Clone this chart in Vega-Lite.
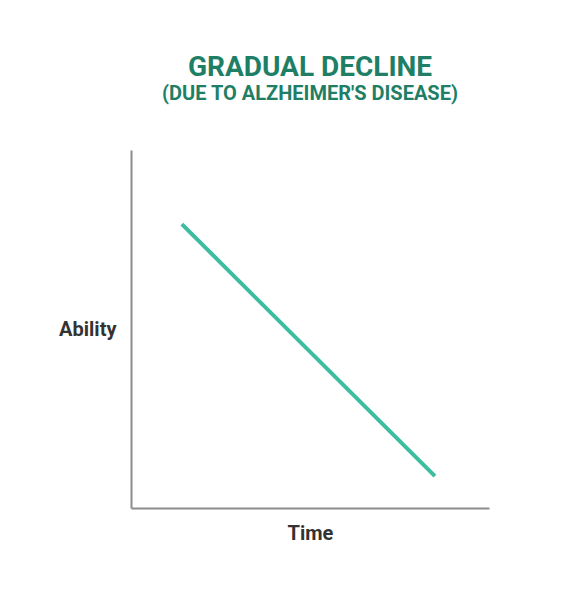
{
  "$schema": "https://vega.github.io/schema/vega-lite/v6.json",
  "width": 358,
  "height": 358,
  "autosize": {"type": "none"},
  "padding": {"left": 131, "top": 150, "right": 81, "bottom": 87},
  "background": "white",
  "title": {
    "text": "GRADUAL DECLINE",
    "subtitle": "(DUE TO ALZHEIMER'S DISEASE)",
    "anchor": "middle",
    "frame": "group",
    "font": "Roboto",
    "fontSize": 28,
    "fontWeight": "bold",
    "color": "#1f7f66",
    "subtitleFont": "Roboto",
    "subtitleFontSize": 20,
    "subtitleFontWeight": "bold",
    "subtitleColor": "#1f7f66",
    "subtitlePadding": 2,
    "offset": 46
  },
  "config": {
    "view": {"stroke": null},
    "font": "Roboto"
  },
  "data": {
    "values": [
      {"time": 14.2, "ability": 79.3},
      {"time": 84.9, "ability": 8.9}
    ]
  },
  "mark": {"type": "line", "color": "#3dbd9f", "strokeWidth": 4, "strokeCap": "butt"},
  "encoding": {
    "x": {
      "field": "time",
      "type": "quantitative",
      "scale": {"domain": [0, 100], "nice": false, "zero": false},
      "axis": {
        "title": "Time",
        "ticks": false,
        "labels": false,
        "grid": false,
        "domainColor": "#8c8c8c",
        "domainWidth": 2,
        "titleFont": "Roboto",
        "titleFontSize": 20,
        "titleFontWeight": "bold",
        "titleColor": "#333333",
        "titleBaseline": "middle",
        "titleY": 25
      }
    },
    "y": {
      "field": "ability",
      "type": "quantitative",
      "scale": {"domain": [0, 100], "nice": false, "zero": false},
      "axis": {
        "title": "Ability",
        "ticks": false,
        "labels": false,
        "grid": false,
        "domainColor": "#8c8c8c",
        "domainWidth": 2,
        "titleFont": "Roboto",
        "titleFontSize": 20,
        "titleFontWeight": "bold",
        "titleColor": "#333333",
        "titleAngle": 0,
        "titleAlign": "right",
        "titleBaseline": "middle",
        "titleX": -15,
        "titleY": 179
      }
    }
  }
}
